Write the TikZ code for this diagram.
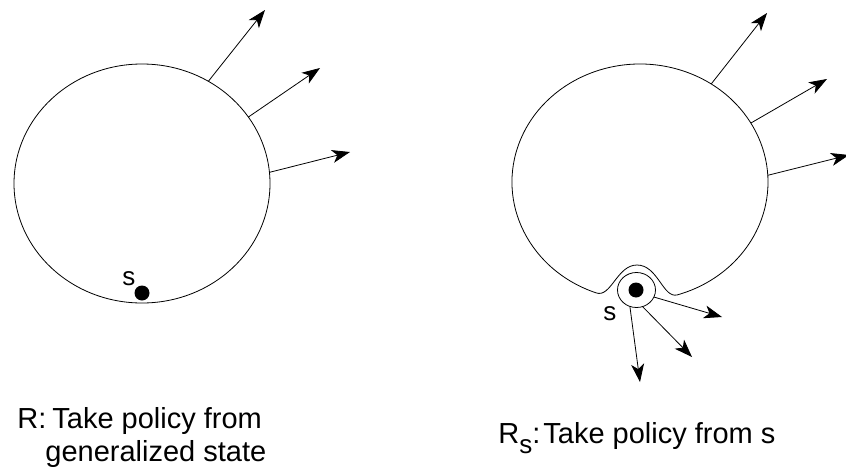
\documentclass[tikz,border=0pt]{standalone}
\usepackage{fontspec}
\setmainfont{Liberation Sans}
\usetikzlibrary{arrows.meta,shapes.geometric}
\begin{document}
\begin{tikzpicture}[x=1pt,y=-1pt,
  line width=0.8pt,
  arr/.style={-{Stealth[length=18pt,width=13pt,inset=5pt]}},
  region/.style={ellipse, inner sep=0pt, outer sep=0pt},
  ring/.style={draw, ellipse, inner sep=0pt, outer sep=0pt, minimum width=38pt, minimum height=35pt},
  dot/.style={circle, fill, inner sep=0pt, minimum size=15pt},
  lbl/.style={inner sep=0pt, font=\fontsize{29}{34}\selectfont},
  slbl/.style={inner sep=0pt, font=\fontsize{26}{30}\selectfont},
]
\useasboundingbox (0,0) rectangle (846,471);

% ---- left region R
\node[region, draw, minimum width=256pt, minimum height=239pt] (L) at (142,183.5) {};
\coordinate (a1) at (265,10);
\coordinate (a2) at (320,68);
\coordinate (a3) at (350,152);
\draw[arr] (L.57.9) -- (a1);
\draw[arr] (L.32.1) -- (a2);
\draw[arr] (L.5.2) -- (a3);
\node[dot] (d1) at (142,293) {};
\node[slbl, anchor=base west] (s1) at (122,285) {s};

% ---- right region R_s
\node[region, minimum width=256pt, minimum height=236pt] (R) at (640,182) {};
\draw (596.2,292.9) arc[start angle=110, end angle=433, x radius=128, y radius=118]
  .. controls (663,298.9) and (658,265) .. (637,265)
  .. controls (617,265) and (611,298) .. (596.2,292.9) -- cycle;
\coordinate (b1) at (767,13);
\coordinate (b2) at (827,79);
\coordinate (b3) at (849,155);
\draw[arr] (R.54.7) -- (b1);
\draw[arr] (R.28.4) -- (b2);
\draw[arr] (R.3.2) -- (b3);
\node[ring] (sc) at (636.5,290) {};
\node[dot] (d2) at (636,290) {};
\node[slbl, anchor=base west] (s2) at (603,320) {s};
\coordinate (c1) at (722,317);
\coordinate (c2) at (692,357);
\coordinate (c3) at (640,382);
\draw[arr] (sc.-22) -- (c1);
\draw[arr] (sc.-70) -- (c2);
\draw[arr] (sc.-112) -- (c3);

% ---- captions
\node[lbl, anchor=base west] (t1) at (17,428) {R:\hspace{6pt}Take policy from};
\node[lbl, anchor=base west] (t2) at (45,461) {generalized state};
\node[lbl, anchor=base west] (t3) at (498,443) {R\raisebox{-10pt}{\fontsize{26}{30}\selectfont s}:\hspace{3pt}Take policy from s};
\end{tikzpicture}
\end{document}
